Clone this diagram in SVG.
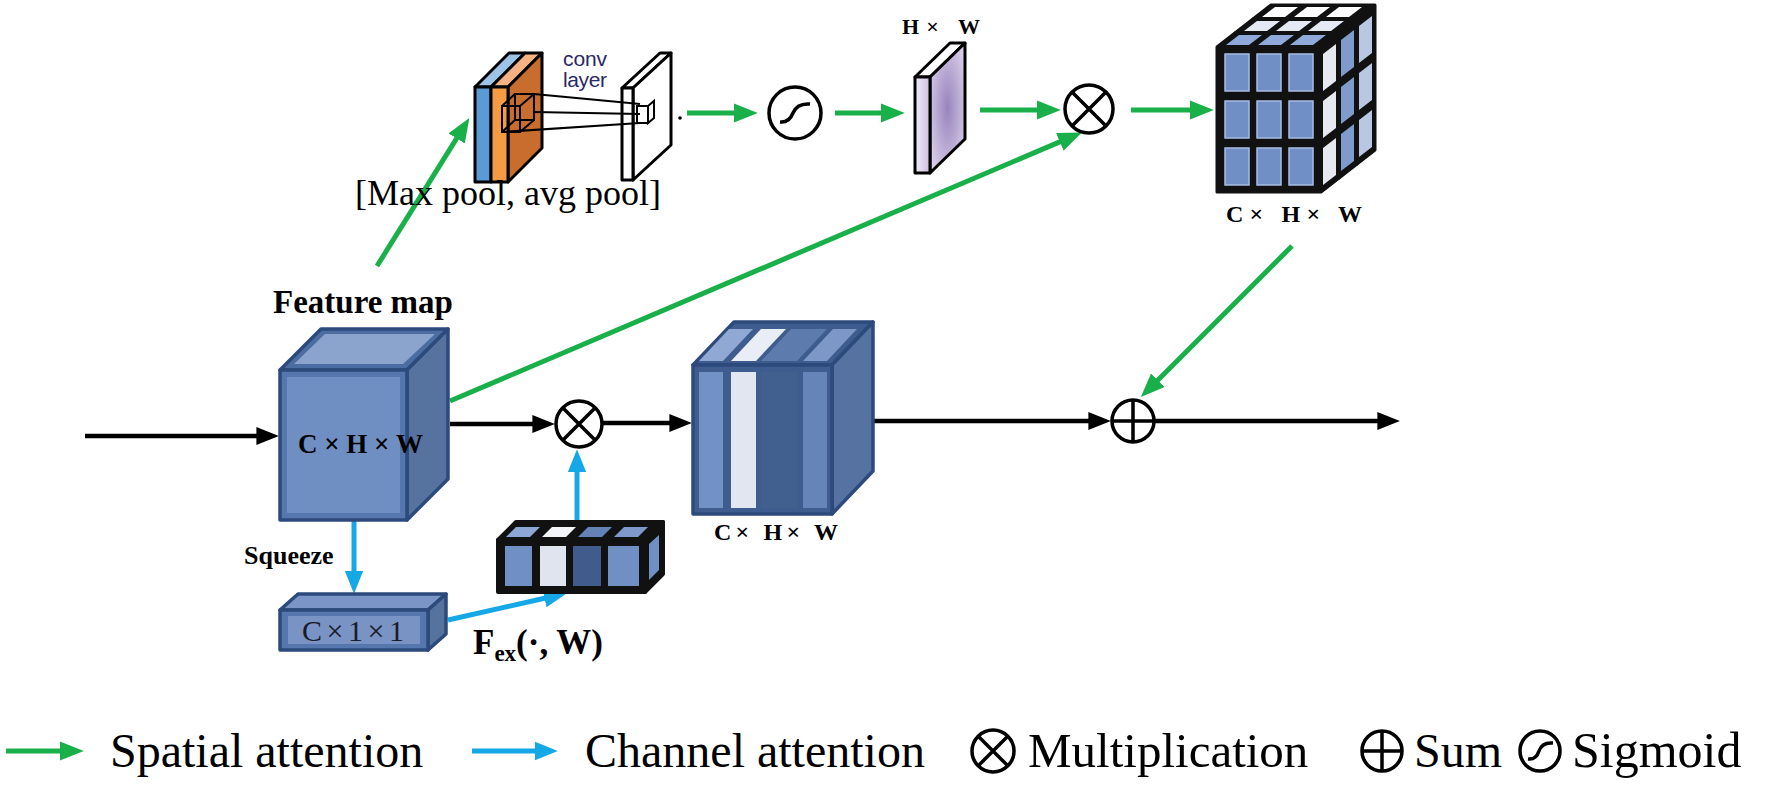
<svg xmlns="http://www.w3.org/2000/svg" width="1772" height="789" viewBox="0 0 1772 789">
<style>
.g{stroke:#19b04a;stroke-width:5;fill:none;marker-end:url(#ag)}
.k{stroke:#000;stroke-width:4.5;fill:none;marker-end:url(#ak)}
.b{stroke:#16a8e6;stroke-width:5;fill:none;marker-end:url(#ab)}
.op{fill:#fff;stroke:#000;stroke-width:3.5}
.opl{stroke:#000;stroke-width:3.5;fill:none}
.ser{font-family:"Liberation Serif","Times New Roman",serif}
.bs{font-family:"Liberation Serif","Times New Roman",serif;font-weight:bold}
.blk{fill:#111;stroke:#111;stroke-width:3;stroke-linejoin:round}
.cell{fill:#6f8fc6;stroke:#a9bde3;stroke-width:1.5}
.ed{stroke:#2c4a7c;stroke-width:3.5;stroke-linejoin:round}
.bk{stroke:#000;stroke-width:3;stroke-linejoin:round}
.fx{stroke:#111;stroke-width:4;stroke-linejoin:round}
</style>
<defs>
<marker id="ag" viewBox="0 0 10 8" refX="0.5" refY="4" markerWidth="4.8" markerHeight="3.9" orient="auto" markerUnits="strokeWidth"><path d="M0,0 L10,4 L0,8 z" fill="#19b04a"/></marker>
<marker id="ak" viewBox="0 0 10 8" refX="0.5" refY="4" markerWidth="5" markerHeight="4.4" orient="auto" markerUnits="strokeWidth"><path d="M0,0 L10,4 L0,8 z" fill="#000"/></marker>
<marker id="ab" viewBox="0 0 10 8" refX="0.5" refY="4" markerWidth="4.6" markerHeight="4.8" orient="auto" markerUnits="strokeWidth"><path d="M0,0 L10,4 L0,8 z" fill="#16a8e6"/></marker>
<linearGradient id="lavF" x1="0" y1="0" x2="1" y2="0"><stop offset="0" stop-color="#f3edf9"/><stop offset="1" stop-color="#cdbde2"/></linearGradient>
<radialGradient id="lavS" cx="0.5" cy="0.5" r="0.6"><stop offset="0" stop-color="#9884bd"/><stop offset="1" stop-color="#d8cee8"/></radialGradient>
</defs>

<!-- connectors -->
<g id="connectors">
<path class="g" d="M377,266 L457.3,137.4"/>
<path class="g" d="M687,113 L735,113"/>
<path class="g" d="M835,113 L882,113"/>
<path class="g" d="M980,110 L1038,110"/>
<path class="g" d="M1131,110 L1191,110"/>
<path class="g" d="M450,401 L1060.9,141.4"/>
<path class="g" d="M1292,246 L1157,381"/>
<path class="k" d="M85,436 L257.5,436"/>
<path class="k" d="M450,424 L533.5,424"/>
<path class="k" d="M602,423 L670.5,423"/>
<path class="k" d="M873,421 L1089.5,421"/>
<path class="k" d="M1154,421 L1378.5,421"/>
<path class="b" d="M354,517 L354,572"/>
<path class="b" d="M448,620 L545.6,598"/>
<path class="b" d="M577,520 L577,471"/>
</g>

<!-- conv input slab -->
<g id="pool-slab">
<polygon class="bk" points="475,87 509,53 525,53 491,87" fill="#9dc3e6"/>
<polygon class="bk" points="491,87 525,53 542,53 508,87" fill="#f4b183"/>
<polygon class="bk" points="508,87 542,53 542,148 508,182" fill="#c86d2e"/>
<rect class="bk" x="475" y="87" width="16" height="95" fill="#5b9bd5"/>
<rect class="bk" x="491" y="87" width="17" height="95" fill="#f59a45"/>
<g stroke="#000" stroke-width="2" fill="none">
<rect x="502" y="106" width="18" height="26"/>
<rect x="515" y="94" width="19" height="26"/>
<path d="M502,106 L515,94 M520,106 L534,94 M520,132 L534,120 M502,132 L515,120"/>
</g>
<text class="ser" x="355" y="205" font-size="36">[Max pool, avg pool]</text>
</g>

<g id="conv-label">
<text x="563" y="66" font-family="'Liberation Sans','Noto Sans',sans-serif" font-size="21" fill="#2a2866" textLength="44">conv</text>
<text x="563" y="87" font-family="'Liberation Sans','Noto Sans',sans-serif" font-size="21" fill="#2a2866" textLength="44">layer</text>
</g>

<g id="conv-out-slab">
<polygon class="bk" points="622,88 660,53 671,53 633,88" fill="#fff"/>
<polygon class="bk" points="633,88 671,53 671,145 633,180" fill="#fff"/>
<rect class="bk" x="622" y="88" width="11" height="92" fill="#fff"/>
<g stroke="#000" stroke-width="2" fill="#fff">
<rect x="637" y="106" width="11" height="17"/>
<polygon points="648,106 654,101 654,118 648,123"/>
</g>
<g stroke="#000" stroke-width="2.2">
<line x1="534" y1="94" x2="640" y2="104"/>
<line x1="534" y1="112" x2="640" y2="114"/>
<line x1="503" y1="132" x2="640" y2="123"/>
</g>
<circle cx="680" cy="118" r="1.8" fill="#000"/>
</g>

<g id="sigmoid">
<circle class="op" cx="795" cy="113" r="26"/>
<path class="opl" d="M780,122 Q789,123 793,113 Q797,103 810,104"/>
</g>

<g id="hw-map">
<polygon class="bk" points="915,77 950,43 965,43 930,77" fill="#fff"/>
<polygon class="bk" points="930,77 965,43 965,139 930,173" fill="url(#lavS)"/>
<rect class="bk" x="915" y="77" width="15" height="96" fill="url(#lavF)"/>
<text class="bs" x="902" y="34" font-size="22" textLength="78">H× W</text>
</g>

<g id="mult-spatial">
<circle class="op" cx="1089" cy="109" r="24"/>
<path class="opl" d="M1072,92 L1106,126 M1106,92 L1072,126"/>
</g>

<g id="spatial-out-cube">
<g transform="translate(1253,19)">
<path class="blk" d="M0,0 L18,-14 L122,-14 L122,131 L104,145 L0,145 Z"/>
<polygon points="9,-2 22,-12 45,-12 32,-2" fill="#fff"/>
<polygon points="41,-2 54,-12 77,-12 64,-2" fill="#fff"/>
<polygon points="73,-2 86,-12 109,-12 96,-2" fill="#fff"/>
<polygon points="106,7 119,-3 119,34 106,44" fill="#b9c7e2"/>
<polygon points="106,54 119,44 119,81 106,91" fill="#b9c7e2"/>
<polygon points="106,101 119,91 119,128 106,138" fill="#b9c7e2"/>
</g>
<g transform="translate(1235,33)">
<path class="blk" d="M0,0 L18,-14 L122,-14 L122,131 L104,145 L0,145 Z"/>
<polygon points="9,-2 22,-12 45,-12 32,-2" fill="#e4e9f4"/>
<polygon points="41,-2 54,-12 77,-12 64,-2" fill="#e4e9f4"/>
<polygon points="73,-2 86,-12 109,-12 96,-2" fill="#e4e9f4"/>
<polygon points="106,7 119,-3 119,34 106,44" fill="#7f9bcc"/>
<polygon points="106,54 119,44 119,81 106,91" fill="#7f9bcc"/>
<polygon points="106,101 119,91 119,128 106,138" fill="#7f9bcc"/>
</g>
<g transform="translate(1217,47)">
<path class="blk" d="M0,0 L18,-14 L122,-14 L122,131 L104,145 L0,145 Z"/>
<polygon points="9,-2 22,-12 45,-12 32,-2" fill="#8ea9da"/>
<polygon points="41,-2 54,-12 77,-12 64,-2" fill="#8ea9da"/>
<polygon points="73,-2 86,-12 109,-12 96,-2" fill="#8ea9da"/>
<polygon points="106,7 119,-3 119,34 106,44" fill="#e6e9f0"/>
<polygon points="106,54 119,44 119,81 106,91" fill="#e6e9f0"/>
<polygon points="106,101 119,91 119,128 106,138" fill="#e6e9f0"/>
<rect class="cell" x="8" y="7" width="24" height="37"/>
<rect class="cell" x="40" y="7" width="24" height="37"/>
<rect class="cell" x="72" y="7" width="24" height="37"/>
<rect class="cell" x="8" y="54" width="24" height="37"/>
<rect class="cell" x="40" y="54" width="24" height="37"/>
<rect class="cell" x="72" y="54" width="24" height="37"/>
<rect class="cell" x="8" y="101" width="24" height="37"/>
<rect class="cell" x="40" y="101" width="24" height="37"/>
<rect class="cell" x="72" y="101" width="24" height="37"/>
</g>
<text class="bs" x="1226" y="222" font-size="24" textLength="136">C× H× W</text>
</g>

<g id="feature-map">
<polygon class="ed" points="280,370 321,329 448,329 407,370" fill="#4c6da2"/>
<polygon points="294,364 325,334 435,334 403,364" fill="#8ba4ce"/>
<polygon class="ed" points="407,370 448,329 448,479 407,520" fill="#56729f"/>
<rect class="ed" x="280" y="370" width="127" height="150" fill="#5677ad"/>
<rect x="287" y="377" width="113" height="136" fill="#6f8fc3"/>
<text class="bs" x="273" y="313" font-size="33">Feature map</text>
<text class="bs" x="298" y="453" font-size="27" textLength="125">C×H×W</text>
</g>

<g id="mult-channel">
<circle class="op" cx="579" cy="424" r="23"/>
<path class="opl" d="M563,408 L595,440 M595,408 L563,440"/>
</g>

<g id="channel-out-cube">
<polygon class="ed" points="693,365 734,322 873,322 832,365" fill="#3e5c8d"/>
<polygon points="699,361 729,329 753,329 723,361" fill="#90a9d4"/>
<polygon points="731,361 761,329 786,329 756,361" fill="#e9edf6"/>
<polygon points="761,361 791,329 827,329 797,361" fill="#5d7bac"/>
<polygon points="803,361 833,329 857,329 827,361" fill="#7d97c6"/>
<polygon class="ed" points="832,365 873,322 873,471 832,514" fill="#5672a0"/>
<rect class="ed" x="693" y="365" width="139" height="149" fill="#3e5c8d"/>
<rect x="699" y="372" width="24" height="136" fill="#7292c5"/>
<rect x="731" y="372" width="25" height="136" fill="#e1e6f1"/>
<rect x="761" y="372" width="36" height="136" fill="#42608f"/>
<rect x="803" y="372" width="24" height="136" fill="#6585b9"/>
<text class="bs" x="714" y="540" font-size="24" textLength="124">C× H× W</text>
</g>

<g id="sum">
<circle class="op" cx="1133" cy="421" r="21"/>
<path class="opl" d="M1112,421 L1154,421 M1133,400 L1133,442"/>
</g>

<g id="squeeze-label">
<text class="bs" x="244" y="564" font-size="26">Squeeze</text>
</g>

<g id="squeezed">
<polygon class="ed" points="280,610 298,594 446,594 428,610" fill="#7b96c6"/>
<polygon class="ed" points="428,610 446,594 446,634 428,650" fill="#56729f"/>
<rect class="ed" x="280" y="610" width="148" height="40" fill="#5677ad"/>
<rect x="288" y="616" width="132" height="28" fill="#7893c4"/>
<text class="ser" x="302" y="641" font-size="30" textLength="102" fill="#1a1a2a">C×1×1</text>
</g>

<g id="excitation">
<polygon class="fx" points="498,540 516,522 663,522 645,540" fill="#111"/>
<polygon points="506,537 516,527 540,527 530,537" fill="#8da6d3"/>
<polygon points="542,537 552,527 576,527 566,537" fill="#f2f4f8"/>
<polygon points="578,537 588,527 612,527 602,537" fill="#6482b5"/>
<polygon points="614,537 624,527 648,527 638,537" fill="#7f9aca"/>
<polygon class="fx" points="645,540 663,522 663,574 645,592" fill="#111"/>
<polygon points="649,544 659,535 659,570 649,580" fill="#7090c3"/>
<rect class="fx" x="498" y="540" width="147" height="52" fill="#111"/>
<rect x="505" y="546" width="27" height="40" fill="#7090c3"/>
<rect x="540" y="546" width="26" height="40" fill="#dfe4ef"/>
<rect x="573" y="546" width="28" height="40" fill="#3f5c8c"/>
<rect x="608" y="546" width="31" height="40" fill="#7090c3"/>
<text class="bs" x="473" y="654" font-size="35">F<tspan font-size="23" dy="7">ex</tspan><tspan font-size="35" dy="-7">(·, W)</tspan></text>
</g>

<g id="legend">
<path class="g" d="M6,751 L61,751"/>
<text class="ser" x="110" y="767" font-size="48">Spatial attention</text>
<path class="b" d="M472,751 L536,751"/>
<text class="ser" x="585" y="767" font-size="48">Channel attention</text>
<circle class="op" cx="993" cy="751" r="21"/>
<path class="opl" d="M978,736 L1008,766 M1008,736 L978,766"/>
<text class="ser" x="1028" y="767" font-size="49">Multiplication</text>
<circle class="op" cx="1382" cy="751" r="20"/>
<path class="opl" d="M1362,751 L1402,751 M1382,731 L1382,771"/>
<text class="ser" x="1414" y="767" font-size="48">Sum</text>
<circle class="op" cx="1540" cy="751" r="20"/>
<path class="opl" d="M1528,759 Q1536,760 1539,751 Q1542,742 1553,743"/>
<text class="ser" x="1572" y="767" font-size="50">Sigmoid</text>
</g>
</svg>
